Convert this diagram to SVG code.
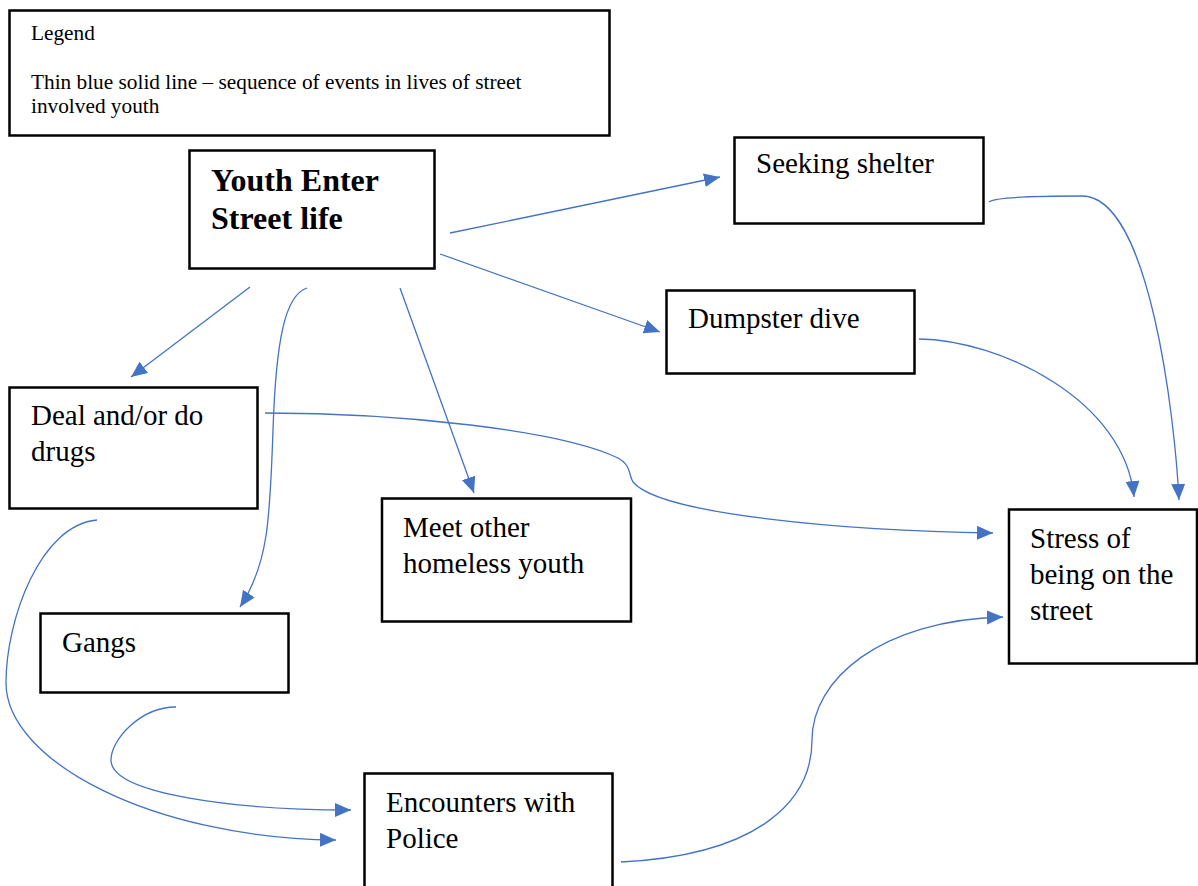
<svg xmlns="http://www.w3.org/2000/svg" width="1198" height="886" viewBox="0 0 1198 886">
<style>
.box{fill:#fff;stroke:#000;stroke-width:2.5}
.t{font-family:"Liberation Serif","Times New Roman",serif;font-size:29px;fill:#000}
.b{font-weight:bold;font-size:32px}
.lg{font-size:21.3px}
.c{fill:none;stroke:#4472C4;stroke-width:1.3}
</style>
<defs>
<marker id="ah" markerUnits="userSpaceOnUse" markerWidth="18" markerHeight="16" refX="16" refY="7" orient="auto">
<path d="M0,0 L16,7 L0,14 z" fill="#4472C4"/>
</marker>
</defs>
<rect width="1198" height="886" fill="#fff"/>
<g id="legend">
<rect class="box" x="9.5" y="10.5" width="600" height="125"/>
<text class="t lg" x="31" y="40">Legend</text>
<text class="t lg" x="31" y="89">Thin blue solid line – sequence of events in lives of street</text>
<text class="t lg" x="31" y="113">involved youth</text>
</g>
<g id="connectors">
<path class="c" marker-end="url(#ah)" d="M450,233 L720,177"/>
<path class="c" marker-end="url(#ah)" d="M440,254 L660,332"/>
<path class="c" marker-end="url(#ah)" d="M250,287 L131,377"/>
<path class="c" marker-end="url(#ah)" d="M307,288 C285,295 276,340 273,430 C270,520 268,565 240,607"/>
<path class="c" marker-end="url(#ah)" d="M400,288 L474,493"/>
<path class="c" marker-end="url(#ah)" d="M265,413 C400,413 560,430 618,458 C632,466 628,474 633,482 C660,515 850,531 993,533"/>
<path class="c" marker-end="url(#ah)" d="M989,202 C995,197 1040,196 1082,196 C1150,196 1175,420 1179,500"/>
<path class="c" marker-end="url(#ah)" d="M919,339 C1000,340 1125,400 1134,497"/>
<path class="c" marker-end="url(#ah)" d="M97,520 C40,525 6,620 6,683 C6,760 150,838 336,840"/>
<path class="c" marker-end="url(#ah)" d="M176,707 C140,707 111,740 111,760 C111,795 240,810 351,810"/>
<path class="c" marker-end="url(#ah)" d="M621,862 C760,855 812,800 812,740 C812,680 880,620 1003,617"/>
</g>
<g id="youth">
<rect class="box" x="189.5" y="150.5" width="245" height="118"/>
<text class="t b" x="211" y="191">Youth Enter</text>
<text class="t b" x="211" y="229">Street life</text>
</g>
<g id="shelter">
<rect class="box" x="734.5" y="137.5" width="249" height="86"/>
<text class="t" x="756" y="173">Seeking shelter</text>
</g>
<g id="dumpster">
<rect class="box" x="666.5" y="290.5" width="248" height="83"/>
<text class="t" x="688" y="328">Dumpster dive</text>
</g>
<g id="drugs">
<rect class="box" x="9.5" y="387.5" width="248" height="121"/>
<text class="t" x="31" y="425">Deal and/or do</text>
<text class="t" x="31" y="461">drugs</text>
</g>
<g id="meet">
<rect class="box" x="382" y="498.5" width="249" height="123"/>
<text class="t" x="403" y="537">Meet other</text>
<text class="t" x="403" y="573">homeless youth</text>
</g>
<g id="gangs">
<rect class="box" x="40.5" y="613.5" width="248" height="79"/>
<text class="t" x="62" y="652">Gangs</text>
</g>
<g id="police">
<rect class="box" x="364.5" y="773.5" width="248" height="120"/>
<text class="t" x="386" y="812">Encounters with</text>
<text class="t" x="386" y="848">Police</text>
</g>
<g id="stress">
<rect class="box" x="1009" y="509.5" width="188" height="154"/>
<text class="t" x="1030" y="548">Stress of</text>
<text class="t" x="1030" y="584">being on the</text>
<text class="t" x="1030" y="620">street</text>
</g>
</svg>
